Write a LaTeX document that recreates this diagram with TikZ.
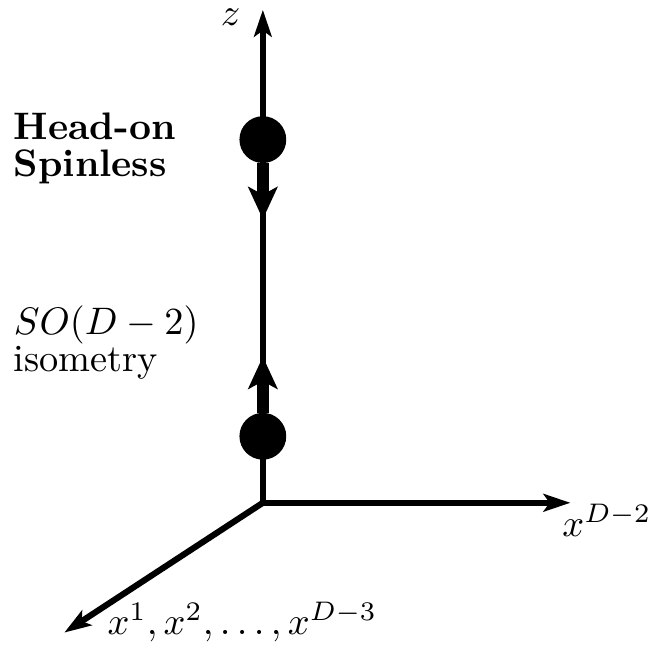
\documentclass[tikz,border=0pt]{standalone}
\usepackage{amsmath}
\usepackage{amssymb}
\usepackage{tikz}
\usetikzlibrary{arrows.meta,calc,positioning}
\tikzset{
  % a coordinate axis with a pointed head
  axis/.style    = {line width=1.6pt, -{Stealth[length=7pt,width=4.6pt,inset=1.6pt]}},
  % a point particle on the z axis
  bhole/.style   = {circle, draw=black, fill=black, inner sep=0pt, minimum size=4.15mm},
  % the direction in which a particle moves
  flow/.style    = {line width=3pt, -{Stealth[length=8.4pt,width=7.6pt,inset=2pt]}},
  % label font for figures
  alabel/.style  = {inner sep=0pt},
}

\begin{document}
\begin{tikzpicture}
    \useasboundingbox (-2.41,-1.33) rectangle (3.55,4.61);
    % axes from the origin
    \coordinate (O) at (0,0);
    \coordinate (zend) at (0,4.52);
    \coordinate (xend) at (2.82,0);
    \coordinate (yend) at (-1.82,-1.19);
    \draw[axis] (O) -- (zend);
    \draw[axis] (O) -- (xend);
    \draw[axis] (O) -- (yend);
    \node[alabel,anchor=east] (zlab) at (-0.2,4.45) {$z$};
    \node[alabel,anchor=base west] (xlab) at (2.74,-0.31) {$x^{D-2}$};
    \node[alabel,anchor=base west] (ylab) at (-1.43,-1.21) {$x^1,x^2,\dots,x^{D-3}$};
    % two particles moving towards each other
    \node[bhole] (b1) at (0,3.33) {};
    \node[bhole] (b2) at (0,0.61) {};
    \coordinate (tip1) at (0,2.60);
    \coordinate (tip2) at (0,1.34);
    \draw[flow] (b1.south) -- (tip1);
    \draw[flow] (b2.north) -- (tip2);
    % text on the left
    \node[alabel,anchor=base west,font=\bfseries] (head) at (-2.29,3.33) {Head-on};
    \node[alabel,anchor=base west,font=\bfseries] (spin) at (-2.29,2.99) {Spinless};
    \node[alabel,anchor=base west] (so) at (-2.29,1.54) {$SO(D-2)$};
    \node[alabel,anchor=base west] (iso) at (-2.29,1.20) {isometry};
  \end{tikzpicture}
\end{document}
